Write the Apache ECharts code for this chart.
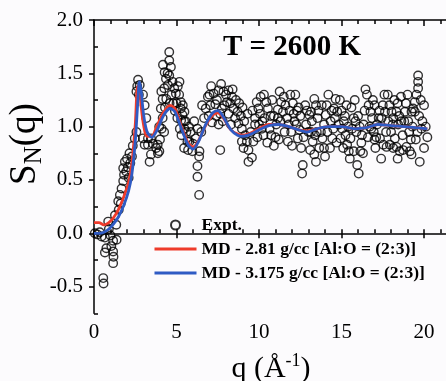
<!DOCTYPE html>
<html>
<head>
<meta charset="utf-8">
<script src="https://cdn.jsdelivr.net/npm/echarts@6/dist/echarts.min.js"></script>
<style>
html,body{margin:0;padding:0;background:#fcfbfd;}
#c{width:446px;height:381px;}
</style>
</head>
<body>
<div id="c"></div>
<script>
// Experimental points (q in 1/Angstrom, S_N(q))
const exptQ = [
0.05,0.2,0.35,0.46,0.56,0.58,0.66,0.66,0.75,0.86,0.9,1.0,1.05,1.16,1.16,1.18,1.16,1.27,1.37,1.35,
1.47,1.5,1.57,1.62,1.67,1.77,1.77,1.82,1.87,1.95,2.0,2.05,2.1,2.15,2.2,2.3,2.35,2.47,2.57,2.57,
2.67,2.62,2.77,2.72,2.97,3.07,3.17,3.27,3.37,3.27,2.97,3.07,3.45,3.45,3.57,3.77,3.86,3.87,3.96,
4.05,4.16,4.16,4.26,4.36,4.46,4.56,4.56,4.56,4.66,4.76,4.86,4.96,5.16,5.26,5.26,5.36,5.46,4.18,4.28,
4.38,4.48,5.08,5.18,4.08,4.58,5.38,5.48,5.28,4.1,4.3,4.7,4.8,4.9,5.0,5.05,4.25,3.95,4.0,5.2,5.3,
5.46,5.66,5.86,5.96,6.07,6.16,6.27,6.37,6.27,6.27,6.37,6.67,6.77,5.6,5.75,5.55,6.5,6.55,6.9,5.7,6.0,5.48,5.78,6.39,
7.25,7.55,7.85,8.15,8.36,8.06,7.75,7.35,7.05,6.95,7.15,7.65,7.55,8.15,8.45,8.55,7.65,8.75,8.96,9.16,
9.26,9.06,9.36,9.57,9.66,9.76,9.96,9.86,10.06,10.17,10.27,9.36,8.96,9.76,7.0,7.4,7.9,8.25,8.6,8.7,
8.9,9.1,9.5,9.9,10.1,7.8,8.3,
7.1,7.45,7.7,8.0,8.4,8.8,9.0,9.3,9.6,10.0,
10.44,10.54,10.34,10.64,10.74,11.04,11.14,11.25,11.34,11.14,11.45,11.55,11.75,11.95,12.05,12.15,12.25,12.35,12.45,12.55,
12.65,12.61,12.85,13.05,13.15,13.25,13.35,13.45,13.35,13.45,13.55,13.15,13.75,13.65,
10.2,10.5,10.9,11.0,11.3,11.6,11.7,11.85,12.0,12.1,12.3,12.5,12.7,12.8,13.0,13.2,13.4,13.6,10.8,11.9,
10.3,10.7,11.2,11.5,11.8,12.2,12.4,12.9,13.1,13.5,13.8,10.9,
14.04,13.94,13.84,13.94,14.14,14.34,14.44,14.64,14.54,14.74,14.84,14.94,15.04,15.14,15.24,15.34,15.44,15.54,15.64,15.74,
15.74,15.95,16.04,16.14,16.24,16.34,16.54,16.64,16.75,16.85,16.95,17.05,17.15,17.25,
14.1,14.3,14.5,14.7,15.0,15.2,15.4,15.6,15.9,16.0,16.2,16.4,16.45,16.6,16.8,17.0,17.1,14.2,15.85,16.9,
14.4,14.6,14.9,15.3,15.5,15.8,16.1,16.3,16.7,17.0,14.0,15.1,
17.43,17.63,17.83,18.03,18.13,18.33,18.43,18.63,18.84,19.04,19.24,19.34,19.44,19.54,19.64,19.64,19.64,19.44,19.84,17.53,
17.73,17.93,18.13,18.33,18.53,18.73,18.93,19.14,19.24,19.74,17.33,18.23,
17.5,17.7,17.9,18.0,18.2,18.5,18.7,18.9,19.1,19.3,19.5,19.7,19.9,20.0,17.6,18.6,19.8,20.1,
17.3,17.8,18.1,18.4,18.8,19.0,19.2,19.6,20.0,20.2,17.4,18.4
];
const exptS = [
0.00,-0.01,0.01,-0.03,-0.42,-0.47,-0.04,-0.18,-0.14,0.11,0.04,-0.02,-0.12,-0.07,-0.17,-0.22,-0.28,0.17,-0.06,0.08,
0.30,0.22,0.36,0.28,0.42,0.49,0.61,0.55,0.67,0.58,0.70,0.62,0.52,0.75,0.66,0.72,0.82,0.89,0.95,1.33,
1.44,1.38,1.39,1.30,1.30,1.20,1.08,0.89,0.67,0.83,0.89,0.83,0.89,0.74,0.84,0.80,0.83,0.75,0.77,
1.17,1.08,1.26,1.36,1.45,1.50,1.48,1.62,1.70,1.56,1.42,1.36,1.31,1.30,1.23,1.17,1.11,1.05,1.58,1.51,
1.26,1.39,1.38,1.42,1.33,1.22,1.20,1.14,1.06,0.98,1.18,1.30,1.22,1.15,1.22,1.08,0.95,1.00,0.88,0.98,0.92,
0.80,0.86,0.95,0.77,1.05,0.89,0.98,0.72,0.63,0.53,0.36,1.08,1.17,0.95,1.00,1.05,0.95,1.20,1.28,0.78,0.84,0.98,0.86,0.77,
1.31,1.34,1.33,1.34,1.28,1.23,1.17,1.21,1.20,1.10,1.04,1.12,1.02,1.12,1.17,1.08,0.78,1.03,0.98,0.92,
0.86,0.80,0.78,0.71,0.86,1.02,1.17,1.23,1.12,0.98,0.92,0.67,0.86,1.08,1.30,1.10,1.20,1.22,1.25,1.14,
1.10,1.05,0.95,0.90,1.28,1.05,1.02,
1.38,1.25,1.40,1.30,1.35,1.22,1.18,1.12,1.15,1.02,
1.23,1.17,1.08,0.98,0.92,1.02,1.16,1.33,1.23,1.08,1.14,0.95,0.86,0.95,1.22,1.05,1.02,0.89,0.97,0.80,
0.64,0.56,1.02,1.11,0.95,0.86,0.74,0.67,1.26,1.20,1.08,1.14,0.95,0.80,
1.05,0.85,1.10,0.90,1.05,1.20,1.08,1.15,0.82,1.12,1.15,1.10,0.90,1.20,0.95,1.05,0.92,1.15,1.25,1.30,
1.30,1.10,0.88,1.28,1.02,1.30,1.18,1.15,0.78,0.95,1.20,0.82,
1.11,1.02,0.89,0.80,0.95,1.05,0.89,1.26,1.17,1.14,1.02,0.89,0.98,1.05,0.92,0.83,0.77,0.89,0.98,1.08,
0.77,0.64,0.56,0.77,0.92,1.02,1.30,1.20,1.14,1.08,0.95,0.80,1.02,1.08,
1.20,0.80,0.98,0.85,1.15,1.10,1.00,1.18,0.95,1.10,0.85,1.15,1.35,0.90,0.98,1.20,0.90,1.30,1.05,1.25,
1.15,1.08,1.25,1.20,0.70,1.25,1.00,0.75,1.00,0.88,0.72,0.80,
1.08,1.14,1.05,1.14,1.08,1.14,1.02,1.05,1.14,1.05,1.14,1.17,1.23,1.30,1.36,1.42,1.48,1.14,0.98,0.83,
0.81,0.83,0.80,0.81,0.77,0.78,0.81,0.77,0.74,0.67,0.89,0.89,
1.20,0.95,1.20,0.95,1.25,1.10,0.92,1.22,0.95,1.00,0.88,1.10,1.05,0.80,1.30,1.28,1.25,1.00,
1.15,1.30,1.02,1.22,1.05,1.30,0.88,0.95,1.20,0.90,0.70,0.70
];
// MD curves
const mdQ = [0,0.3,0.6,0.9,1.2,1.5,1.8,2.1,2.3,2.5,2.65,2.75,2.85,3.0,3.2,3.5,3.8,4.2,4.6,4.9,5.3,5.7,6.0,6.3,6.8,7.2,7.5,7.8,8.3,8.7,9.0,9.5,10.0,10.6,11.2,11.8,12.4,12.9,13.5,14.2,15.0,15.8,16.5,17.2,18.0,18.8,19.5,20.2];
const md281 = [0.10,0.10,0.08,0.10,0.15,0.23,0.34,0.48,0.66,1.02,1.38,1.36,1.20,1.02,0.91,0.91,1.00,1.13,1.20,1.17,1.00,0.85,0.81,0.86,1.02,1.11,1.13,1.09,0.97,0.93,0.92,0.94,0.98,1.02,1.02,1.00,0.97,0.96,0.98,1.00,1.00,0.98,0.99,1.02,1.01,1.00,0.99,0.98];
const md3175 = [0.00,0.00,0.01,0.04,0.09,0.16,0.26,0.40,0.56,0.86,1.22,1.42,1.34,1.12,0.96,0.90,0.96,1.10,1.17,1.14,0.98,0.83,0.79,0.85,1.03,1.13,1.15,1.10,0.97,0.92,0.91,0.93,0.97,1.01,1.02,1.00,0.97,0.95,0.98,1.00,1.00,0.98,0.99,1.02,1.01,1.00,0.99,0.98];
// Tick values
const xMajor = [0,5,10,15,20];
const xMinor = [0,1,2,3,4,5,6,7,8,9,10,11,12,13,14,15,16,17,18,19,20,21];
const yMajor = [-0.5,0,0.5,1.0,1.5,2.0];
const yMinor = [-0.75,-0.25,0.25,0.75,1.25,1.75];
const seriesNames = ['Expt.', 'MD - 2.81 g/cc [Al:O = (2:3)]', 'MD - 3.175 g/cc [Al:O = (2:3)]'];

const FONT = "'Liberation Serif','Times New Roman',serif";
const pair = (xs, ys) => xs.map((x, i) => [x, ys[i]]);

const chart = echarts.init(document.getElementById('c'), null, {renderer: 'canvas'});
const lineAx = {show: true, lineStyle: {color: '#000', width: 1.5}};
const XMAX = 21.33;
chart.setOption({
  animation: false,
  backgroundColor: '#fcfbfd',
  grid: {left: 94, right: 0, top: 20, bottom: 67.7, containLabel: false},
  xAxis: [
    {type: 'value', min: 0, max: XMAX, position: 'bottom', axisLine: lineAx,
     axisTick: {show: true, customValues: xMajor, length: 5, inside: false, lineStyle: {color: '#000', width: 1.5}},
     axisLabel: {customValues: xMajor, fontFamily: FONT, fontSize: 21, color: '#000', margin: 9},
     splitLine: {show: false}},
    {type: 'value', min: 0, max: XMAX, position: 'bottom', axisLine: {show: false},
     axisTick: {show: true, customValues: xMinor, length: 4, inside: true, lineStyle: {color: '#000', width: 1.5}},
     axisLabel: {show: false}, splitLine: {show: false}},
    {type: 'value', min: 0, max: XMAX, position: 'top', axisLine: lineAx,
     axisTick: {show: true, customValues: xMinor, length: 4, inside: true, lineStyle: {color: '#000', width: 1.5}},
     axisLabel: {show: false}, splitLine: {show: false}},
    {type: 'value', min: 0, max: XMAX, position: 'top', axisLine: {show: false},
     axisTick: {show: true, customValues: xMajor, length: 6, inside: true, lineStyle: {color: '#000', width: 1.5}},
     axisLabel: {show: false}, splitLine: {show: false}}
  ],
  yAxis: [
    {type: 'value', min: -0.75, max: 2.0, position: 'left', axisLine: lineAx,
     axisTick: {show: true, customValues: yMajor, length: 5, inside: false, lineStyle: {color: '#000', width: 1.5}},
     axisLabel: {customValues: yMajor, formatter: v => v.toFixed(1), fontFamily: FONT, fontSize: 21, color: '#000', margin: 11},
     splitLine: {show: false}},
    {type: 'value', min: -0.75, max: 2.0, position: 'left', axisLine: {show: false},
     axisTick: {show: true, customValues: yMinor, length: 4, inside: true, lineStyle: {color: '#000', width: 1.5}},
     axisLabel: {show: false}, splitLine: {show: false}}
  ],
  legend: {
    orient: 'vertical', left: 153, top: 216, padding: 0, itemWidth: 42, itemHeight: 9, itemGap: 6,
    textStyle: {fontFamily: FONT, fontWeight: 'bold', fontSize: 17.5, color: '#000', lineHeight: 15},
    data: [
      {name: seriesNames[0]},
      {name: seriesNames[1], itemStyle: {opacity: 0}, lineStyle: {width: 3}},
      {name: seriesNames[2], itemStyle: {opacity: 0}, lineStyle: {width: 3}}
    ]
  },
  graphic: [
    {type: 'text', x: 292, y: 48, style: {text: 'T = 2600 K', font: "bold 29px 'Liberation Serif'", fill: '#000', align: 'center', verticalAlign: 'middle'}},
    {type: 'text', x: 271, y: 368, style: {text: '{m|q (Å}{s|-1}{m|)}', align: 'center', verticalAlign: 'middle', fill: '#000',
      rich: {m: {fontFamily: FONT, fontSize: 30, verticalAlign: 'bottom', lineHeight: 32}, s: {fontFamily: FONT, fontSize: 18, verticalAlign: 'top', lineHeight: 18}}}},
    {type: 'text', x: 27, y: 144, rotation: Math.PI / 2, style: {text: '{m|S}{s|N}{m|(q)}', align: 'center', verticalAlign: 'middle', fill: '#000',
      rich: {m: {fontFamily: FONT, fontSize: 37, verticalAlign: 'top', lineHeight: 40}, s: {fontFamily: FONT, fontSize: 25, verticalAlign: 'bottom', lineHeight: 25}}}}
  ],
  series: [
    {name: seriesNames[0], type: 'scatter', xAxisIndex: 0, yAxisIndex: 0, data: pair(exptQ, exptS),
     symbol: 'circle', symbolSize: 8.5,
     itemStyle: {color: 'rgba(0,0,0,0)', borderColor: '#000', borderWidth: 1.4}},
    {name: seriesNames[1], type: 'line', xAxisIndex: 0, yAxisIndex: 0, data: pair(mdQ, md281),
     smooth: 0.3, symbol: 'none', lineStyle: {color: '#ee3b2b', width: 2.8}, itemStyle: {color: '#ee3b2b'}},
    {name: seriesNames[2], type: 'line', xAxisIndex: 0, yAxisIndex: 0, data: pair(mdQ, md3175),
     smooth: 0.3, symbol: 'none', lineStyle: {color: '#2f5bc4', width: 2.8}, itemStyle: {color: '#2f5bc4'}}
  ]
});
</script>
</body>
</html>
